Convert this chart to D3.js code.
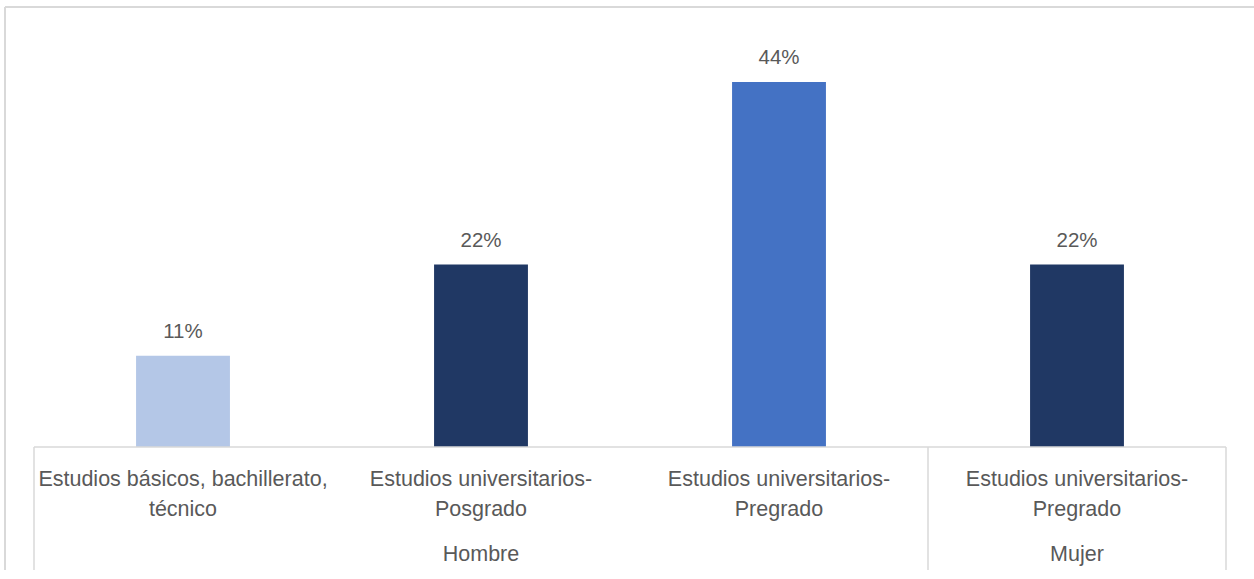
<!DOCTYPE html>
<html>
<head>
<meta charset="utf-8">
<script src="https://cdn.jsdelivr.net/npm/d3@7"></script>
<style>
  body { margin: 0; background: #fff; }
  text { font-family: "Liberation Sans", Arial, sans-serif; fill: #595959; }
</style>
</head>
<body>
<div id="chart"></div>
<script>
// category labels, split in lines the way they wrap in the picture
const categories = [
  ["Estudios básicos, bachillerato,", "técnico"],
  ["Estudios universitarios-", "Posgrado"],
  ["Estudios universitarios-", "Pregrado"],
  ["Estudios universitarios-", "Pregrado"]
];
const groups = ["Hombre", "Mujer"];
const groupOf = [0, 0, 0, 1];
const values = [0.11, 0.22, 0.44, 0.22];
const colors = ["#B4C7E7", "#203864", "#4472C4", "#203864"];

var width = 1254, height = 579;
var margin = { left: 34, right: 28, axisY: 447, bottom: 570 };

var svg = d3.select("#chart").append("svg")
  .attr("width", width)
  .attr("height", height);

// outer chart border (top and left visible)
svg.append("line").attr("x1", 5).attr("x2", width).attr("y1", 7).attr("y2", 7)
  .attr("stroke", "#d9d9d9").attr("stroke-width", 2);
svg.append("line").attr("x1", 5).attr("x2", 5).attr("y1", 7).attr("y2", margin.bottom)
  .attr("stroke", "#d9d9d9").attr("stroke-width", 2);

var x = d3.scaleBand()
  .domain(d3.range(values.length))
  .range([margin.left, width - margin.right])
  .paddingInner(0).paddingOuter(0);

var y = d3.scaleLinear()
  .domain([0, 0.44])
  .range([margin.axisY, 82]);

var barW = x.bandwidth() * 0.315;

// bars
svg.selectAll(".bar")
  .data(values)
  .enter().append("rect")
  .attr("class", "bar")
  .attr("x", (d, i) => x(i) + (x.bandwidth() - barW) / 2)
  .attr("width", barW)
  .attr("y", d => y(d))
  .attr("height", d => y(0) - y(d))
  .attr("fill", (d, i) => colors[i]);

// value labels
svg.selectAll(".val")
  .data(values)
  .enter().append("text")
  .attr("class", "val")
  .attr("x", (d, i) => x(i) + x.bandwidth() / 2)
  .attr("y", d => y(d) - 25)
  .attr("dy", "0.35em")
  .attr("text-anchor", "middle")
  .style("font-size", "20.5px")
  .text(d => d3.format(".0%")(d));

// axis line
svg.append("line")
  .attr("x1", x.range()[0]).attr("x2", x.range()[1])
  .attr("y1", y(0)).attr("y2", y(0))
  .attr("stroke", "#d9d9d9").attr("stroke-width", 1.5);

// group separators: left edge, between groups, right edge
var seps = [0];
groupOf.forEach((g, i) => { if (i > 0 && g !== groupOf[i - 1]) seps.push(i); });
seps.push(values.length);
svg.selectAll(".sep")
  .data(seps)
  .enter().append("line")
  .attr("class", "sep")
  .attr("x1", i => i < values.length ? x(i) : x.range()[1])
  .attr("x2", i => i < values.length ? x(i) : x.range()[1])
  .attr("y1", y(0)).attr("y2", margin.bottom)
  .attr("stroke", "#d9d9d9").attr("stroke-width", 1.5);

// category labels
var cat = svg.selectAll(".cat")
  .data(categories)
  .enter().append("text")
  .attr("class", "cat")
  .attr("text-anchor", "middle")
  .style("font-size", "21.5px");
cat.selectAll("tspan")
  .data((d, i) => d.map(t => ({ t: t, i: i })))
  .enter().append("tspan")
  .attr("x", d => x(d.i) + x.bandwidth() / 2)
  .attr("y", (d, j) => 478 + j * 30)
  .attr("dy", "0.35em")
  .text(d => d.t);

// group labels
svg.selectAll(".grp")
  .data(groups)
  .enter().append("text")
  .attr("class", "grp")
  .attr("x", (g, gi) => {
    var idx = d3.range(values.length).filter(i => groupOf[i] === gi);
    return (x(idx[0]) + x(idx[idx.length - 1]) + x.bandwidth()) / 2;
  })
  .attr("y", 553)
  .attr("dy", "0.35em")
  .attr("text-anchor", "middle")
  .style("font-size", "21.5px")
  .text(g => g);
</script>
</body>
</html>
